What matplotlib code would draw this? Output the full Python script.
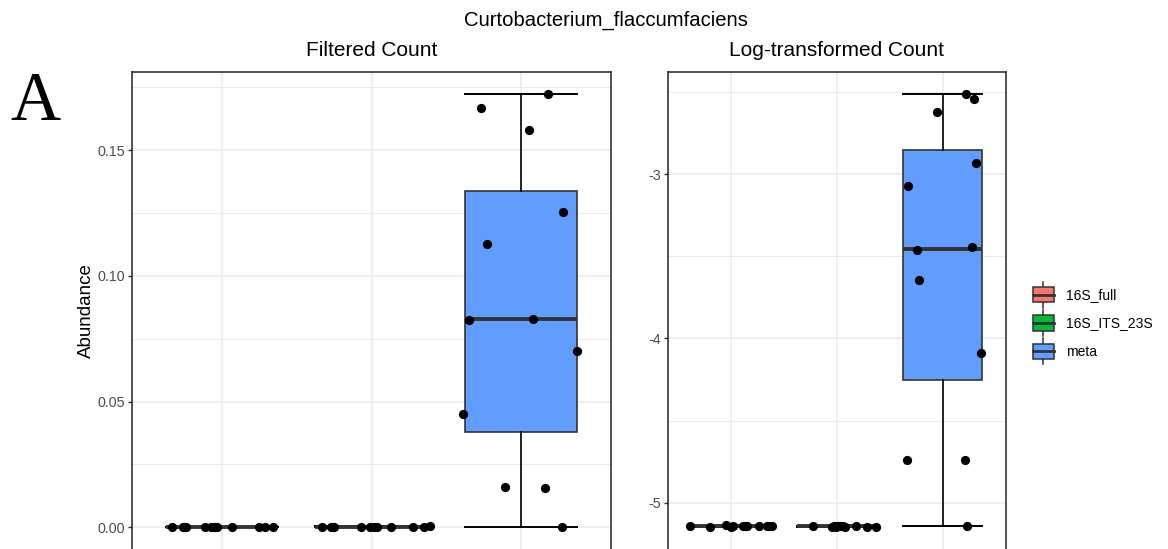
import numpy as np
import matplotlib
matplotlib.use("Agg")
import matplotlib.pyplot as plt
from matplotlib.patches import Patch, Rectangle
from matplotlib.lines import Line2D
from matplotlib.legend_handler import HandlerBase
from matplotlib.ticker import MultipleLocator, FormatStrFormatter

plt.rcParams['font.family'] = ['Liberation Sans', 'DejaVu Sans']

groups = ["16S_full", "16S_ITS_23S", "meta"]
colors = ["#F8766D", "#00BA38", "#619CFF"]

# filtered abundance per sample
filt_full = [0.0, 0.0001, 0.0002, 0.0, 0.0, 0.0001, 0.0, 0.0002, 0.0, 0.0001, 0.0, 0.0]
filt_its = [0.0, 0.0001, 0.0003, 0.0002, 0.0001, 0.0, 0.0003, 0.0002, 0.0001, 0.0004, 0.0002, 0.0001]
filt_meta = [0.1725, 0.1669, 0.158, 0.1255, 0.1127, 0.0825, 0.0829, 0.0701,
             0.045, 0.0159, 0.0155, 0.0]

# log-transformed abundance per sample
log_full = [-5.140, -5.147, -5.135, -5.147, -5.144, -5.144, -5.140, -5.144,
            -5.145, -5.142, -5.146, -5.143]
log_its = [-5.144, -5.147, -5.147, -5.140, -5.144, -5.140, -5.151, -5.151,
           -5.143, -5.145, -5.146, -5.148]
log_meta = [-2.508, -2.538, -2.617, -2.933, -3.073, -3.444, -3.462, -3.644,
            -4.088, -4.739, -4.739, -5.140]

# horizontal jitter of each point (in category units)
jit_filt_full = [-0.33, -0.26, -0.24, -0.11, -0.07, -0.03, 0.07, 0.25, 0.29, 0.34, -0.25, -0.05]
jit_filt_its = [-0.33, -0.27, -0.25, -0.07, -0.01, 0.04, 0.13, 0.28, 0.35, 0.39, -0.26, 0.02]
jit_filt_meta = [0.18, -0.27, 0.05, 0.28, -0.23, -0.35, 0.08, 0.37, -0.39, -0.11, 0.16, 0.27]
jit_log_full = [-0.39, -0.20, -0.05, 0.0, 0.11, 0.15, 0.26, 0.34, 0.38, 0.13, 0.36, 0.02]
jit_log_its = [-0.23, -0.05, -0.01, 0.02, 0.06, 0.18, 0.28, 0.37, 0.0, 0.04, -0.03, 0.08]
jit_log_meta = [0.22, 0.30, -0.05, 0.32, -0.33, 0.28, -0.24, -0.22, 0.36, -0.34, 0.21, 0.23]


def panel(ax, data, jitters, major, minor, fmt):
    pos = [1, 2, 3]
    bp = ax.boxplot(data, positions=pos, widths=0.75, patch_artist=True,
                    showfliers=False, whis=1.5, capwidths=0.75,
                    boxprops=dict(edgecolor="#333333", linewidth=1.2),
                    medianprops=dict(color="#333333", linewidth=2.8),
                    whiskerprops=dict(color="black", linewidth=1.2),
                    capprops=dict(color="black", linewidth=1.4),
                    zorder=2)
    for patch, c in zip(bp["boxes"], colors):
        patch.set_facecolor(c)
    for p, vals, jit in zip(pos, data, jitters):
        ax.scatter(np.array(jit) + p, vals, s=44, color="black", zorder=4,
                   linewidths=0)
    ax.set_xlim(0.4, 3.6)
    ax.margins(y=0.05)
    ax.set_xticks(pos)
    ax.set_xticklabels([])
    ax.tick_params(axis="x", length=0)
    ax.yaxis.set_major_locator(MultipleLocator(major))
    ax.yaxis.set_minor_locator(MultipleLocator(minor))
    ax.yaxis.set_major_formatter(FormatStrFormatter(fmt))
    ax.tick_params(axis="y", which="major", length=3, width=1.0, color="#333333",
                   labelsize=10.3, labelcolor="#4D4D4D", pad=2)
    ax.tick_params(axis="y", which="minor", length=0)
    ax.grid(True, which="major", color="#EBEBEB", linewidth=1.1, zorder=0)
    ax.grid(True, which="minor", axis="y", color="#EBEBEB", linewidth=0.7, zorder=0)
    ax.set_axisbelow(True)
    for s in ax.spines.values():
        s.set_color("#333333")
        s.set_linewidth(1.2)
    ax.spines["bottom"].set_visible(False)


class BoxKey(HandlerBase):
    def create_artists(self, legend, orig_handle, xdescent, ydescent,
                       width, height, fontsize, trans):
        x0, y0 = -xdescent, -ydescent
        cx = x0 + width / 2
        w1 = Line2D([cx, cx], [y0, y0 + 0.2 * height], color="#333333", lw=1.1, transform=trans)
        w2 = Line2D([cx, cx], [y0 + 0.8 * height, y0 + height], color="#333333", lw=1.1, transform=trans)
        box = Rectangle((x0, y0 + 0.2 * height), width, 0.6 * height,
                        facecolor=orig_handle.get_facecolor(), edgecolor="#333333",
                        lw=1.1, transform=trans)
        med = Line2D([x0, x0 + width], [y0 + 0.5 * height] * 2, color="#333333",
                     lw=2.0, transform=trans)
        return [w1, w2, box, med]


W, H = 1168, 549
fig = plt.figure(figsize=(W / 100, H / 100), dpi=100)

ax1 = fig.add_axes([132 / W, 0, 479 / W, 477 / H])
ax2 = fig.add_axes([668 / W, 0, 338 / W, 477 / H])

panel(ax1, [filt_full, filt_its, filt_meta],
      [jit_filt_full, jit_filt_its, jit_filt_meta], 0.05, 0.025, "%.2f")
panel(ax2, [log_full, log_its, log_meta],
      [jit_log_full, jit_log_its, jit_log_meta], 1, 0.5, "%d")

ax1.set_ylabel("Abundance", fontsize=13.5)
ax1.yaxis.set_label_coords(-0.078, 0.5)

fig.text((132 + 479 / 2) / W, 1 - 50 / H, "Filtered Count", fontsize=15,
         ha="center", va="center")
fig.text((668 + 338 / 2) / W, 1 - 50 / H, "Log-transformed Count", fontsize=15,
         ha="center", va="center")
fig.text(606 / W, 1 - 20 / H, "Curtobacterium_flaccumfaciens", fontsize=14.6,
         ha="center", va="center")
fig.text(35 / W, 1 - 103 / H, "A", fontsize=50, family="Liberation Serif",
         ha="center", va="center")

handles = [Patch(facecolor=c, label=g) for g, c in zip(groups, colors)]
fig.legend(handles=handles, loc="center left",
           bbox_to_anchor=(1033 / W, 1 - 323 / H), frameon=False,
           borderpad=0, borderaxespad=0, handlelength=1.5, handleheight=2.5,
           handletextpad=0.9, labelspacing=0.18, fontsize=10,
           handler_map={Patch: BoxKey()})

fig.savefig("out.png", dpi=100)
